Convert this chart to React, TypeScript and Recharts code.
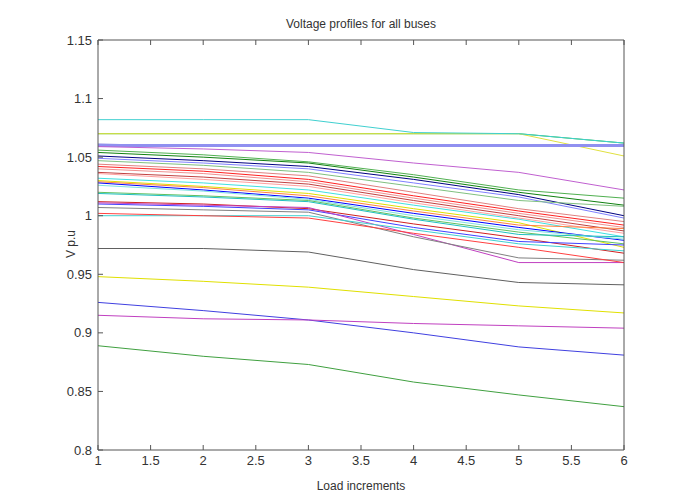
import React from 'react';
import { LineChart, Line, XAxis, YAxis } from 'recharts';

const loadIncrements = [1, 2, 3, 4, 5, 6];
const xTicks = [1, 1.5, 2, 2.5, 3, 3.5, 4, 4.5, 5, 5.5, 6];
const yTicks = [0.8, 0.85, 0.9, 0.95, 1, 1.05, 1.1, 1.15];

// Bus voltage profiles (p.u.) at each load increment
const bus01 = [1.070, 1.070, 1.070, 1.070, 1.070, 1.062];
const bus02 = [1.070, 1.070, 1.070, 1.070, 1.070, 1.051];
const bus03 = [1.082, 1.082, 1.082, 1.071, 1.070, 1.062];
const bus04 = [1.061, 1.060, 1.060, 1.060, 1.060, 1.060];
const bus05 = [1.060, 1.060, 1.060, 1.060, 1.060, 1.060];
const bus06 = [1.059, 1.057, 1.054, 1.045, 1.037, 1.022];
const bus07 = [1.056, 1.052, 1.046, 1.035, 1.022, 1.015];
const bus08 = [1.054, 1.050, 1.045, 1.033, 1.020, 1.009];
const bus09 = [1.051, 1.047, 1.042, 1.031, 1.018, 1.000];
const bus10 = [1.049, 1.045, 1.040, 1.028, 1.016, 0.998];
const bus11 = [1.047, 1.043, 1.037, 1.025, 1.013, 1.008];
const bus12 = [1.044, 1.040, 1.034, 1.020, 1.006, 0.995];
const bus13 = [1.042, 1.038, 1.031, 1.017, 1.004, 0.992];
const bus14 = [1.040, 1.036, 1.029, 1.015, 1.002, 0.990];
const bus15 = [1.037, 1.033, 1.027, 1.013, 1.000, 0.987];
const bus16 = [1.036, 1.031, 1.025, 1.011, 0.998, 0.985];
const bus17 = [1.032, 1.028, 1.022, 1.009, 0.997, 0.982];
const bus18 = [1.030, 1.025, 1.019, 1.006, 0.994, 0.973];
const bus19 = [1.029, 1.024, 1.017, 1.004, 0.992, 0.989];
const bus20 = [1.028, 1.022, 1.015, 1.002, 0.990, 0.979];
const bus21 = [1.026, 1.021, 1.014, 1.000, 0.988, 0.980];
const bus22 = [1.020, 1.017, 1.013, 0.998, 0.986, 0.976];
const bus23 = [1.019, 1.016, 1.012, 0.997, 0.984, 0.982];
const bus24 = [1.012, 1.010, 1.006, 0.993, 0.981, 0.968];
const bus25 = [1.010, 1.008, 1.005, 0.990, 0.978, 0.975];
const bus26 = [1.011, 1.009, 1.007, 0.984, 0.960, 0.960];
const bus27 = [1.007, 1.005, 1.003, 0.982, 0.964, 0.962];
const bus28 = [1.000, 1.000, 1.000, 0.988, 0.976, 0.970];
const bus29 = [1.002, 1.000, 0.998, 0.985, 0.973, 0.960];
const bus30 = [0.972, 0.972, 0.969, 0.954, 0.943, 0.941];
const bus31 = [0.948, 0.944, 0.939, 0.931, 0.923, 0.917];
const bus32 = [0.926, 0.919, 0.911, 0.900, 0.888, 0.881];
const bus33 = [0.915, 0.912, 0.911, 0.908, 0.906, 0.904];
const bus34 = [0.889, 0.880, 0.873, 0.858, 0.847, 0.837];

const buses = [bus01, bus02, bus03, bus04, bus05, bus06, bus07, bus08, bus09, bus10,
  bus11, bus12, bus13, bus14, bus15, bus16, bus17, bus18, bus19, bus20,
  bus21, bus22, bus23, bus24, bus25, bus26, bus27, bus28, bus29, bus30,
  bus31, bus32, bus33, bus34];

const colors = ['#40c040', '#e0e040', '#40d0d0', '#0000c0', '#9090f0', '#c060d0',
  '#50b050', '#108010', '#000080', '#8080ff', '#80c080', '#e08080', '#ff2020',
  '#f09090', '#c04040', '#ffa0a0', '#40e0e0', '#e0e000', '#ff8040', '#0000ff',
  '#80e0e0', '#60c060', '#20c0c0', '#d02020', '#4040ff', '#c040c0', '#808080',
  '#40d0d0', '#ff4040', '#606060', '#e0e000', '#4040e0', '#c040c0', '#40a040'];

const widths = buses.map((_, i) => (i === 4 ? 3 : 1));

const data = loadIncrements.map((x, i) => {
  const row: Record<string, number> = { x };
  buses.forEach((b, j) => { row['b' + j] = b[i]; });
  return row;
});

const fmt = (v: number) => String(Number(v.toFixed(2)));
const font = { fontFamily: 'Liberation Sans, Arial, sans-serif', fontSize: 13, fill: '#333' };

export default function App() {
  return (
    <div style={{ position: 'relative', width: 677, height: 496 }}>
      <div style={{ position: 'absolute', left: 0, width: 706, top: 9, textAlign: 'center', fontFamily: 'Liberation Sans, Arial, sans-serif', fontSize: 12, color: '#333' }}>
        Voltage profiles for all buses
      </div>
      <div style={{ position: 'absolute', left: 0, width: 706, top: 471, textAlign: 'center', fontFamily: 'Liberation Sans, Arial, sans-serif', fontSize: 12, color: '#333' }}>
        Load increments
      </div>
      <div style={{ position: 'absolute', left: 63 - 30, top: 229, width: 60, textAlign: 'center', transform: 'rotate(-90deg)', fontFamily: 'Liberation Sans, Arial, sans-serif', fontSize: 12, color: '#333' }}>
        V p.u
      </div>
      <LineChart width={677} height={496} data={data} margin={{ top: 31, right: 60, bottom: 24, left: 30 }}>
        <XAxis dataKey="x" type="number" domain={[1, 6]} ticks={xTicks} interval={0} tickFormatter={fmt}
          tickSize={-5} tickMargin={11} tick={font} stroke="#555" allowDataOverflow />
        <XAxis xAxisId="top" orientation="top" dataKey="x" type="number" domain={[1, 6]} ticks={xTicks} interval={0}
          tickFormatter={() => ''} tickSize={-5} height={1} stroke="#555" />
        <YAxis type="number" domain={[0.8, 1.15]} ticks={yTicks} interval={0} tickFormatter={fmt}
          tickSize={-5} tickMargin={11} tick={font} stroke="#555" width={60} allowDataOverflow />
        <YAxis yAxisId="right" orientation="right" type="number" domain={[0.8, 1.15]} ticks={yTicks} interval={0}
          tickFormatter={() => ''} tickSize={-5} width={1} stroke="#555" />
        {buses.map((_, j) => (
          <Line key={j} dataKey={'b' + j} stroke={colors[j]} strokeWidth={widths[j]} dot={false}
            isAnimationActive={false} type="linear" />
        ))}
      </LineChart>
    </div>
  );
}
